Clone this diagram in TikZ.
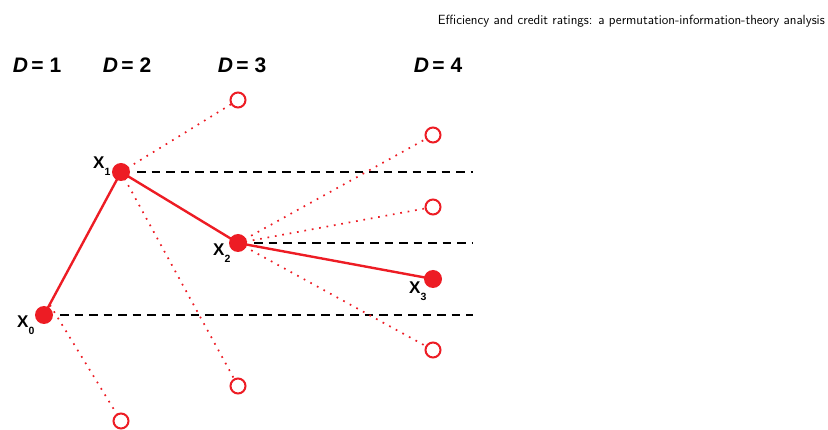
\documentclass[tikz,border=0pt]{standalone}
\usepackage{fontspec}
\setmainfont{Liberation Sans}
\setsansfont{Latin Modern Sans}
\begin{document}
\begin{tikzpicture}[x=1pt,y=-1pt,
  every node/.style={inner sep=0pt},
  pathred/.style={draw=rred,line width=2.4pt},
  trial/.style={draw=rred,line width=1.7pt,dash pattern=on 1.7pt off 5.8pt},
  level/.style={draw=black,line width=1.6pt,dash pattern=on 8.5pt off 6pt},
  filled/.style={circle,fill=rred,minimum size=18pt},
  hollow/.style={circle,draw=rred,fill=white,line width=2pt,minimum size=15pt},
  dlab/.style={font=\bfseries\fontsize{21}{22}\selectfont},
  xlab/.style={font=\bfseries\fontsize{17}{17}\selectfont}]
\definecolor{rred}{HTML}{ED1C24}
\newcommand{\sbx}[1]{\raisebox{-7pt}{\fontsize{10.5}{10.5}\selectfont #1}}
\useasboundingbox (0,0) rectangle (828,430);
% header
\node[anchor=east,font=\sffamily\fontsize{13.3}{15}\selectfont] (title) at (825,21)
  {Efficiency and credit ratings: a permutation-information-theory analysis};
% embedding dimensions
\node[dlab] (d1) at (37,65) {\textit{D}\,=\;1};
\node[dlab] (d2) at (127,65) {\textit{D}\,=\;2};
\node[dlab] (d3) at (242,65) {\textit{D}\,=\;3};
\node[dlab] (d4) at (438,65) {\textit{D}\,=\;4};
% observed values
\coordinate (x0) at (44,315);
\coordinate (x1) at (121,172);
\coordinate (x2) at (238,243);
\coordinate (x3) at (433,279);
% alternative values
\coordinate (a1) at (121,421);
\coordinate (b1) at (238,100);
\coordinate (b2) at (238,386);
\coordinate (c1) at (433,135);
\coordinate (c2) at (433,207);
\coordinate (c3) at (433,350);
% right ends of the level lines
\coordinate (e1) at (473,172);
\coordinate (e2) at (473,243);
\coordinate (e0) at (473,315);
% level lines
\draw[level] ([xshift=16pt]x1) -- (e1);
\draw[level] ([xshift=16pt]x2) -- (e2);
\draw[level] ([xshift=16pt]x0) -- (e0);
% alternative steps
\draw[trial] ([shift={(6pt,10pt)}]x0) -- (a1);
\draw[trial] (x1) -- (b1);
\draw[trial] (x1) -- (b2);
\draw[trial] (x2) -- (c1);
\draw[trial] (x2) -- (c2);
\draw[trial] (x2) -- (c3);
% observed path
\draw[pathred] (x0) -- (x1) -- (x2) -- (x3);
% markers
\node[filled] (n0) at (x0) {};
\node[filled] (n1) at (x1) {};
\node[filled] (n2) at (x2) {};
\node[filled] (n3) at (x3) {};
\node[hollow] (m1) at (a1) {};
\node[hollow] (m2) at (b1) {};
\node[hollow] (m3) at (b2) {};
\node[hollow] (m4) at (c1) {};
\node[hollow] (m5) at (c2) {};
\node[hollow] (m6) at (c3) {};
% labels
\node[xlab,anchor=base west] (l0) at (17,328) {X\sbx{0}};
\node[xlab,anchor=base west] (l1) at (93,169) {X\sbx{1}};
\node[xlab,anchor=base west] (l2) at (213,256) {X\sbx{2}};
\node[xlab,anchor=base west] (l3) at (409,294) {X\sbx{3}};
\end{tikzpicture}
\end{document}
